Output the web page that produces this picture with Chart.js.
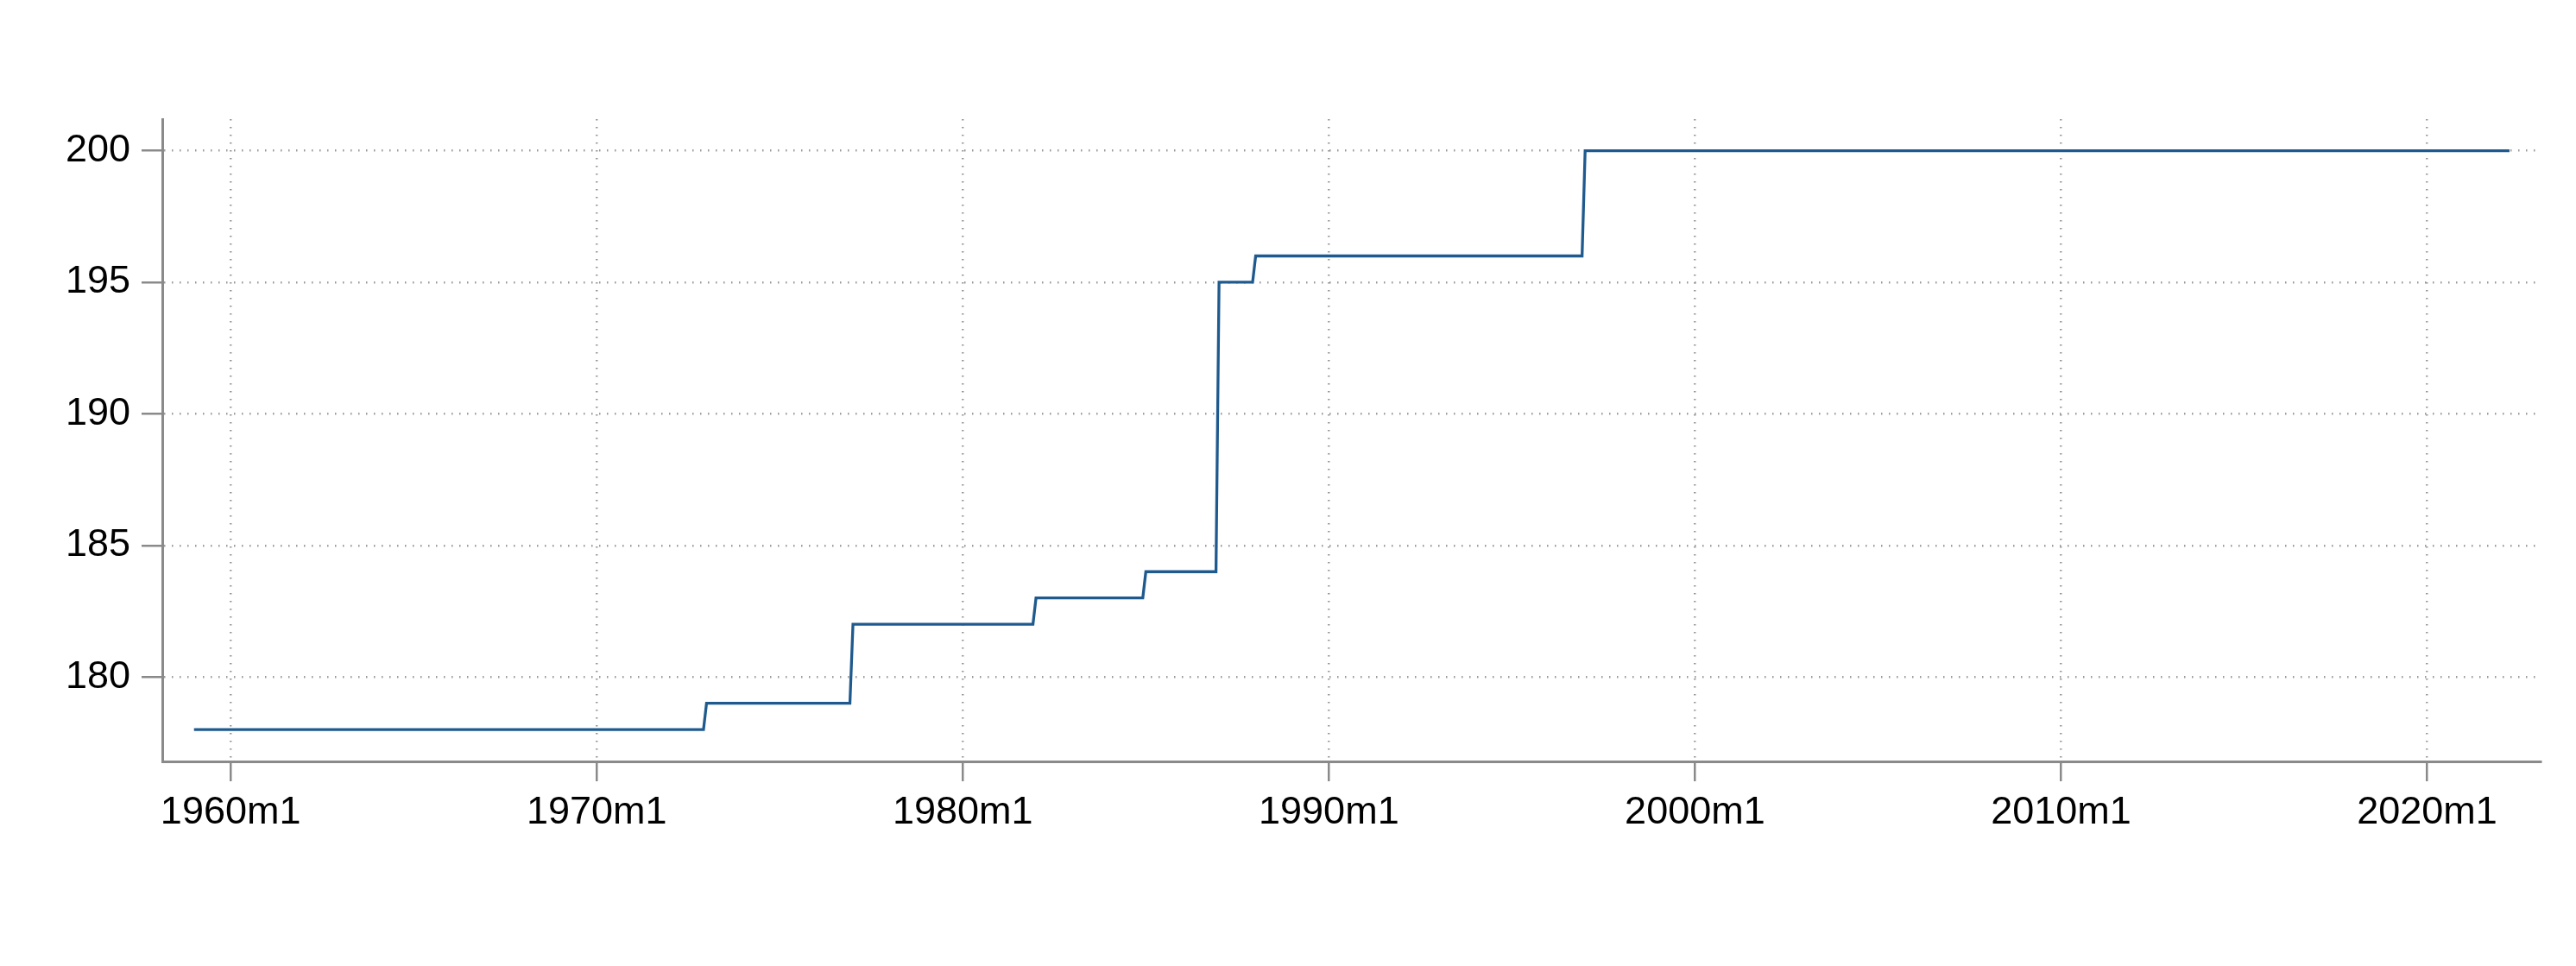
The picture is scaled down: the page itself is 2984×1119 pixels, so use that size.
<!DOCTYPE html>
<html>
<head>
<meta charset="utf-8">
<script src="https://cdn.jsdelivr.net/npm/chart.js@4"></script>
<style>
  html, body { margin: 0; padding: 0; background: #fff; }
  #wrap { width: 2984px; height: 1119px; }
</style>
</head>
<body>
<div id="wrap"><canvas id="myChart" width="2984" height="1119"></canvas></div>
<script>
// === Data: monthly series, points where the level changes ===
const obsDates = ['1959m1', '1972m12', '1973m1', '1976m12', '1977m1', '1981m12', '1982m1',
  '1984m12', '1985m1', '1986m12', '1987m1', '1987m12', '1988m1', '1996m12', '1997m1', '2022m4'];
const obsValues = [178, 178, 179, 179, 182, 182, 183, 183, 184, 184, 195, 195, 196, 196, 200, 200];

const xTickLabels = ['1960m1', '1970m1', '1980m1', '1990m1', '2000m1', '2010m1', '2020m1'];
const yTickValues = [180, 185, 190, 195, 200];

// Stata-style monthly date: 0 = 1960m1
function toMonth(label) {
  const parts = label.split('m');
  return (parseInt(parts[0]) - 1960) * 12 + (parseInt(parts[1]) - 1);
}

const points = obsDates.map((d, i) => ({ x: toMonth(d), y: obsValues[i] }));
const labelByMonth = {};
xTickLabels.forEach(l => { labelByMonth[toMonth(l)] = l; });

const axisGray = '#8a8a8a';
const gridGray = '#9a9a9a';
const tickFont = { family: '"Liberation Sans", Arial, Helvetica, sans-serif', size: 45 };

const ctx = document.getElementById('myChart').getContext('2d');
new Chart(ctx, {
  type: 'line',
  data: {
    datasets: [{
      data: points,
      borderColor: '#1f5a8e',
      borderWidth: 3.3,
      pointRadius: 0,
      tension: 0,
      fill: false
    }]
  },
  options: {
    responsive: false,
    animation: false,
    layout: {
      padding: { top: 138, right: 41, bottom: 0, left: 0 }
    },
    plugins: {
      legend: { display: false },
      tooltip: { enabled: false },
      title: { display: false }
    },
    scales: {
      x: {
        type: 'linear',
        min: -22.4,
        max: 757.2,
        afterBuildTicks: scale => {
          scale.ticks = xTickLabels.map(l => ({ value: toMonth(l) }));
        },
        afterFit: scale => { scale.height = 237; },
        ticks: {
          autoSkip: false,
          maxRotation: 0,
          color: '#000',
          font: tickFont,
          padding: 10,
          callback: value => labelByMonth[value] || ''
        },
        grid: {
          color: gridGray,
          lineWidth: 2.5,
          tickColor: axisGray,
          tickWidth: 2.5,
          tickLength: 23,
          tickBorderDash: []
        },
        border: {
          display: true,
          color: axisGray,
          width: 3,
          dash: [1.5, 7.5]
        }
      },
      y: {
        type: 'linear',
        min: 176.79,
        max: 201.2,
        afterBuildTicks: scale => {
          scale.ticks = yTickValues.map(v => ({ value: v }));
        },
        afterFit: scale => { scale.width = 188; },
        ticks: {
          color: '#000',
          font: tickFont,
          padding: 13
        },
        grid: {
          color: gridGray,
          lineWidth: 2.5,
          tickColor: axisGray,
          tickWidth: 2.5,
          tickLength: 24,
          tickBorderDash: []
        },
        border: {
          display: true,
          color: axisGray,
          width: 3,
          dash: [1.5, 7.5]
        }
      }
    }
  }
});
</script>
</body>
</html>
